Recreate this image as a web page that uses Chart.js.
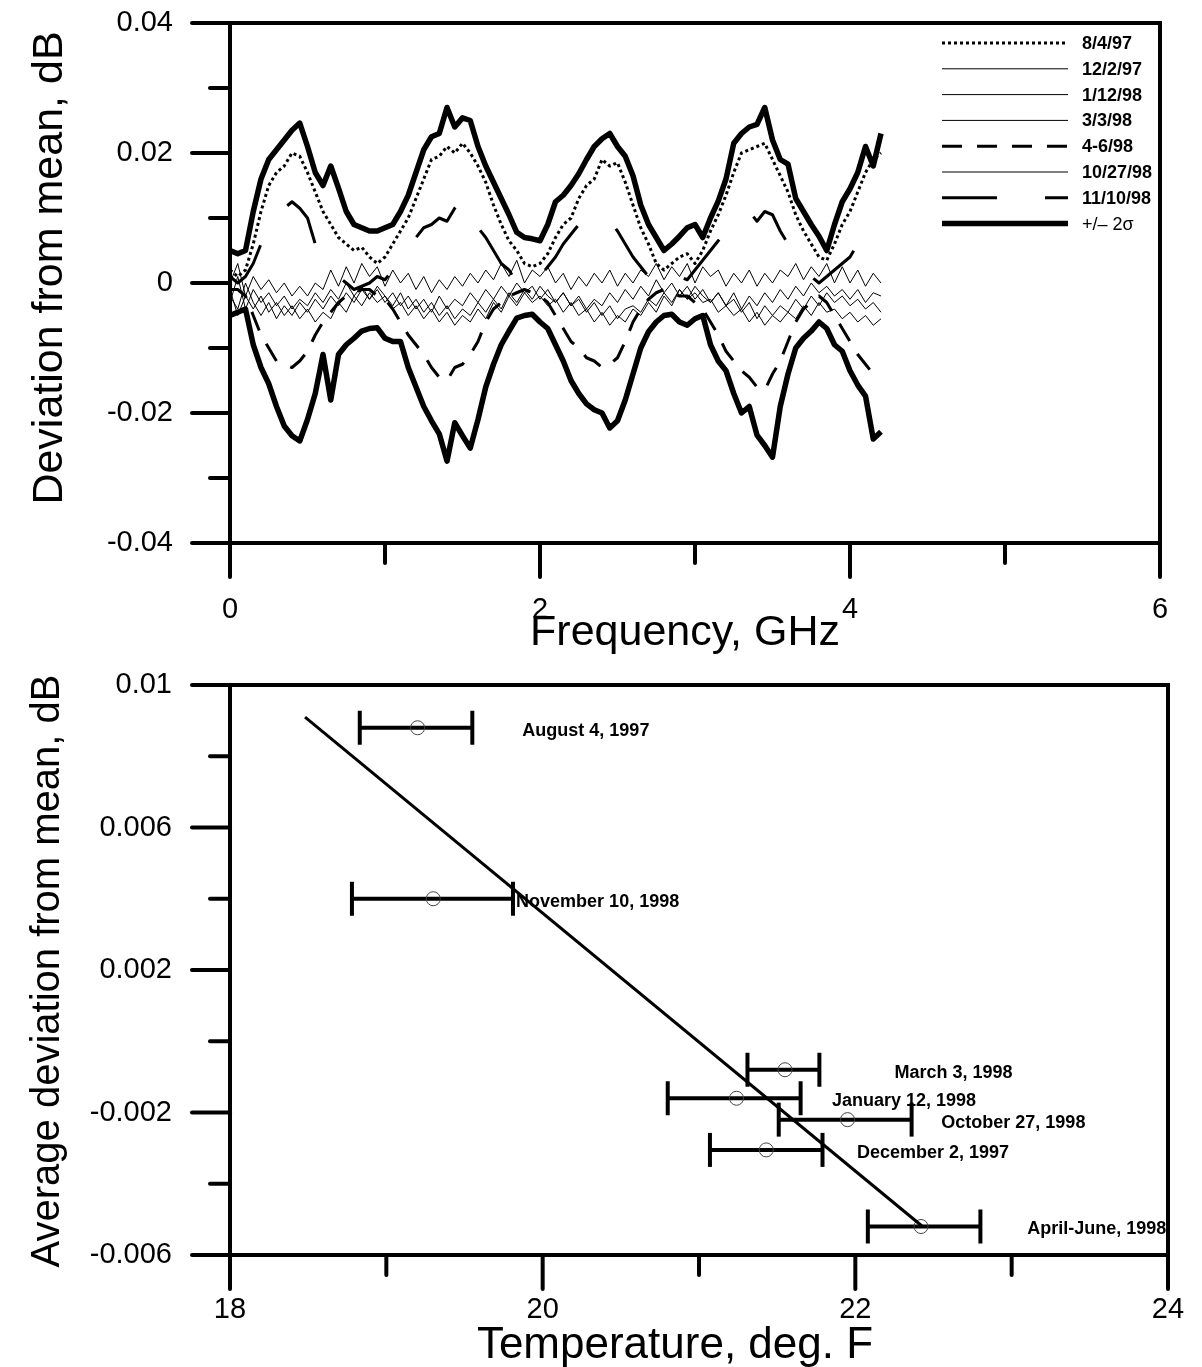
<!DOCTYPE html>
<html>
<head>
<meta charset="utf-8">
<script src="https://cdn.jsdelivr.net/npm/chart.js@4.4.1/dist/chart.umd.min.js"></script>
<style>
  html, body { margin: 0; padding: 0; background: #fff; }
  #top-chart { position: absolute; left: 0; top: 0; }
  #bottom-chart { position: absolute; left: 0; top: 660px; }
</style>
</head>
<body>
<canvas id="top-chart" width="1202" height="660"></canvas>
<canvas id="bottom-chart" width="1202" height="707"></canvas>
<script>
// ---- top panel: deviation from mean vs frequency (GHz), sampled every 0.05 GHz ----
const freq = [
  0.00, 0.05, 0.10, 0.15, 0.20, 0.25, 0.30, 0.35, 0.40, 0.45,
  0.50, 0.55, 0.60, 0.65, 0.70, 0.75, 0.80, 0.85, 0.90, 0.95,
  1.00, 1.05, 1.10, 1.15, 1.20, 1.25, 1.30, 1.35, 1.40, 1.45,
  1.50, 1.55, 1.60, 1.65, 1.70, 1.75, 1.80, 1.85, 1.90, 1.95,
  2.00, 2.05, 2.10, 2.15, 2.20, 2.25, 2.30, 2.35, 2.40, 2.45,
  2.50, 2.55, 2.60, 2.65, 2.70, 2.75, 2.80, 2.85, 2.90, 2.95,
  3.00, 3.05, 3.10, 3.15, 3.20, 3.25, 3.30, 3.35, 3.40, 3.45,
  3.50, 3.55, 3.60, 3.65, 3.70, 3.75, 3.80, 3.85, 3.90, 3.95,
  4.00, 4.05, 4.10, 4.15, 4.20
];

const plus2Sigma = [
  0.005, 0.0045, 0.005, 0.011, 0.016, 0.019, 0.0205, 0.022, 0.0235, 0.0246,
  0.021, 0.017, 0.015, 0.018, 0.0146, 0.011, 0.009, 0.0085, 0.008, 0.008,
  0.0085, 0.009, 0.011, 0.0135, 0.017, 0.0205, 0.0225, 0.023, 0.027, 0.024,
  0.0254, 0.025, 0.021, 0.018, 0.0155, 0.013, 0.0105, 0.0078, 0.007, 0.0068,
  0.0065, 0.009, 0.0125, 0.0135, 0.015, 0.0168, 0.019, 0.021, 0.0222, 0.023,
  0.021, 0.0195, 0.0165, 0.012, 0.009, 0.007, 0.005, 0.006, 0.0072, 0.0085,
  0.009, 0.007, 0.010, 0.0126, 0.016, 0.0215, 0.023, 0.024, 0.0244, 0.027,
  0.022, 0.019, 0.0183, 0.013, 0.011, 0.009, 0.0072, 0.005, 0.009, 0.0125,
  0.0145, 0.017, 0.021, 0.018, 0.023
];

const minus2Sigma = [
  -0.005, -0.0045, -0.004, -0.0095, -0.013, -0.0155, -0.019, -0.022, -0.0235, -0.0243,
  -0.021, -0.017, -0.011, -0.018, -0.011, -0.0095, -0.0085, -0.0074, -0.007, -0.0069,
  -0.0085, -0.009, -0.009, -0.013, -0.016, -0.019, -0.0212, -0.0232, -0.0274, -0.0215,
  -0.0235, -0.0254, -0.021, -0.016, -0.0125, -0.0095, -0.0074, -0.0054, -0.005, -0.0048,
  -0.006, -0.007, -0.0095, -0.012, -0.015, -0.017, -0.0186, -0.0195, -0.020, -0.0223,
  -0.0212, -0.018, -0.014, -0.010, -0.0075, -0.006, -0.005, -0.0048, -0.006, -0.0065,
  -0.0055, -0.005, -0.0095, -0.012, -0.0135, -0.017, -0.020, -0.019, -0.0234, -0.025,
  -0.0268, -0.019, -0.014, -0.010, -0.0085, -0.0074, -0.006, -0.007, -0.0095, -0.0105,
  -0.0135, -0.0157, -0.0174, -0.024, -0.0229
];

const aug497 = [
  0.002, 0.001, 0.002, 0.006, 0.011, 0.015, 0.017, 0.018, 0.020, 0.0195,
  0.017, 0.014, 0.011, 0.009, 0.007, 0.006, 0.005, 0.0055, 0.004, 0.003,
  0.004, 0.006, 0.008, 0.010, 0.013, 0.016, 0.019, 0.0195, 0.021, 0.020,
  0.0215, 0.020, 0.018, 0.0155, 0.012, 0.009, 0.0065, 0.005, 0.003, 0.0025,
  0.003, 0.0045, 0.007, 0.009, 0.010, 0.013, 0.015, 0.016, 0.019, 0.018,
  0.0185, 0.0155, 0.012, 0.0085, 0.006, 0.003, 0.002, 0.003, 0.004, 0.0045,
  0.003, 0.005, 0.008, 0.0105, 0.0135, 0.017, 0.020, 0.0205, 0.021, 0.0215,
  0.019, 0.0165, 0.014, 0.0105, 0.008, 0.006, 0.004, 0.0035, 0.006, 0.009,
  0.011, 0.014, 0.017, 0.019, 0.020
];

const dec297 = [
  0.000, 0.003, -0.002, 0.001, -0.001, 0.0005, -0.0015, 0.000, -0.002, -0.0005,
  -0.002, 0.000, -0.001, 0.002, -0.0005, 0.0025, 0.000, 0.003, 0.001, 0.0025,
  -0.0005, 0.002, 0.000, 0.0015, -0.001, 0.001, -0.0015, 0.0005, -0.001, 0.001,
  -0.0005, 0.0015, 0.000, 0.002, 0.0005, 0.003, 0.001, 0.0035, 0.000, 0.002,
  0.001, 0.0025, 0.000, 0.0015, -0.001, 0.001, -0.0005, 0.0015, 0.000, 0.002,
  -0.0005, 0.0015, 0.000, 0.002, 0.001, 0.003, 0.0005, 0.0025, 0.001, 0.003,
  0.000, 0.0025, 0.001, 0.002, -0.0005, 0.0015, 0.000, 0.002, -0.0005, 0.0015,
  0.000, 0.002, 0.001, 0.003, 0.0005, 0.0025, 0.001, 0.003, 0.000, 0.0025,
  0.000, 0.002, -0.0005, 0.0015, 0.000
];

const jan1298 = [
  -0.003, 0.001, -0.004, -0.001, -0.003, -0.0015, -0.0035, -0.002, -0.004, -0.0025,
  -0.0035, -0.0015, -0.003, -0.001, -0.0025, 0.000, -0.002, -0.0005, -0.0025, -0.001,
  -0.003, -0.0015, -0.0035, -0.002, -0.004, -0.0025, -0.0045, -0.002, -0.004, -0.0025,
  -0.0035, -0.0015, -0.003, -0.001, -0.0025, -0.0005, -0.002, 0.000, -0.0015, -0.0005,
  -0.0025, -0.001, -0.003, -0.0015, -0.0035, -0.002, -0.004, -0.0025, -0.0035, -0.0015,
  -0.003, -0.001, -0.0025, -0.0005, -0.002, 0.0005, -0.0015, 0.000, -0.002, -0.0005,
  -0.0025, -0.001, -0.003, -0.0015, -0.0035, -0.0015, -0.004, -0.002, -0.0035, -0.0015,
  -0.003, -0.001, -0.0025, -0.0005, -0.002, 0.000, -0.0015, -0.0005, -0.002, -0.001,
  -0.0025, -0.001, -0.003, -0.0015, -0.002
];

const mar398 = [
  -0.002, -0.004, 0.000, -0.003, -0.005, -0.003, -0.0055, -0.0035, -0.005, -0.003,
  -0.0045, -0.0025, -0.004, -0.002, -0.0035, -0.0015, -0.003, -0.001, -0.0025, -0.0005,
  -0.002, -0.0035, -0.0015, -0.004, -0.0025, -0.0045, -0.003, -0.005, -0.0035, -0.0055,
  -0.004, -0.005, -0.003, -0.0045, -0.0025, -0.004, -0.0015, -0.003, -0.001, -0.0025,
  -0.0005, -0.002, -0.003, -0.0015, -0.0035, -0.0025, -0.0045, -0.003, -0.005, -0.0035,
  -0.0055, -0.004, -0.0035, -0.0045, -0.0025, -0.0035, -0.0015, -0.003, -0.001, -0.0025,
  -0.0005, -0.002, -0.003, -0.0015, -0.0035, -0.0025, -0.0045, -0.003, -0.0055, -0.0035,
  -0.005, -0.0035, -0.0045, -0.0025, -0.004, -0.002, -0.0035, -0.0015, -0.003, -0.002,
  -0.0035, -0.0025, -0.004, -0.003, -0.0045
];

const apr698 = [
  -0.001, -0.001, -0.002, -0.005, -0.008, -0.010, -0.012, -0.0125, -0.013, -0.012,
  -0.0105, -0.008, -0.006, -0.0045, -0.003, -0.002, -0.0015, -0.001, -0.001, -0.002,
  -0.0025, -0.004, -0.006, -0.008, -0.0095, -0.011, -0.013, -0.0145, -0.015, -0.013,
  -0.0125, -0.011, -0.009, -0.006, -0.004, -0.003, -0.002, -0.0015, -0.001, -0.0015,
  -0.002, -0.003, -0.005, -0.007, -0.009, -0.010, -0.0115, -0.012, -0.013, -0.0125,
  -0.0115, -0.009, -0.006, -0.004, -0.0025, -0.0015, -0.001, -0.0015, -0.002, -0.002,
  -0.003, -0.004, -0.006, -0.008, -0.0105, -0.012, -0.0135, -0.0145, -0.016, -0.0165,
  -0.014, -0.012, -0.009, -0.006, -0.004, -0.003, -0.002, -0.003, -0.005, -0.007,
  -0.009, -0.011, -0.0125, -0.014, -0.0145
];

const oct2798 = [
  -0.001, -0.005, -0.002, -0.004, -0.002, -0.0045, -0.003, -0.005, -0.0035, -0.0055,
  -0.004, -0.006, -0.0045, -0.0055, -0.003, -0.0045, -0.002, -0.0035, -0.0015, -0.003,
  -0.002, -0.004, -0.003, -0.005, -0.0035, -0.0055, -0.004, -0.006, -0.0045, -0.0065,
  -0.005, -0.006, -0.004, -0.0055, -0.003, -0.0045, -0.002, -0.0035, -0.0015, -0.003,
  -0.002, -0.0035, -0.0025, -0.0045, -0.003, -0.005, -0.004, -0.006, -0.0045, -0.0065,
  -0.005, -0.006, -0.004, -0.005, -0.003, -0.0045, -0.002, -0.0035, -0.001, -0.0025,
  -0.0015, -0.003, -0.0025, -0.0045, -0.0035, -0.005, -0.004, -0.006, -0.0045, -0.0065,
  -0.005, -0.006, -0.0045, -0.0055, -0.0035, -0.005, -0.003, -0.0045, -0.004, -0.0055,
  -0.0045, -0.006, -0.005, -0.0065, -0.0055
];

const nov1098 = [
  0.001, 0.000, 0.001, 0.003, 0.006, 0.008, 0.010, 0.0115, 0.0125, 0.0115,
  0.010, 0.006, 0.003, 0.002, 0.001, 0.000, -0.001, -0.0005, 0.000, 0.001,
  0.0005, 0.002, 0.003, 0.005, 0.007, 0.0085, 0.009, 0.010, 0.0095, 0.0115,
  0.013, 0.0105, 0.0085, 0.007, 0.005, 0.003, 0.002, 0.000, -0.001, 0.000,
  0.001, 0.0025, 0.004, 0.006, 0.0075, 0.009, 0.009, 0.0095, 0.0105, 0.0095,
  0.008, 0.006, 0.004, 0.0025, 0.001, 0.000, -0.001, 0.000, 0.001, 0.0005,
  0.002, 0.0035, 0.005, 0.0065, 0.008, 0.009, 0.010, 0.011, 0.0095, 0.011,
  0.0105, 0.008, 0.006, 0.004, 0.002, 0.001, 0.000, 0.001, 0.002, 0.003,
  0.004, 0.006, 0.0075, 0.009, 0.0095
];

// ---- bottom panel: average deviation vs temperature ----
const dateLabels = ['August 4, 1997', 'November 10, 1998', 'March 3, 1998', 'January 12, 1998',
  'October 27, 1998', 'December 2, 1997', 'April-June, 1998'];
const tempMean = [19.20, 19.30, 21.55, 21.24, 21.95, 21.43, 22.42];
const tempLow = [18.83, 18.78, 21.31, 20.80, 21.51, 21.07, 22.08];
const tempHigh = [19.55, 19.81, 21.77, 21.65, 22.36, 21.79, 22.80];
const avgDev = [0.0088, 0.0040, -0.0008, -0.0016, -0.0022, -0.00305, -0.0052];
const fitTemp = [18.48, 22.43];
const fitDev = [0.0091, -0.0052];

// where each date note starts, in temperature units (layout only)
const noteStart = [19.87, 19.83, 22.25, 21.85, 22.55, 22.01, 23.10];

const FONT = '"Liberation Sans", Arial, Helvetica, sans-serif';
Chart.defaults.font.family = FONT;
Chart.defaults.color = '#000';

const pts = (xs, ys) => xs.map((x, i) => ({x, y: ys[i]}));

function series(label, values, width, dash, legend = true) {
  return {
    label, data: pts(freq, values), legend,
    borderColor: '#000', borderWidth: width, borderDash: dash,
    borderJoinStyle: 'round', pointRadius: 0, tension: 0, fill: false
  };
}

// fixed-size axis; drop the label overhang padding so the plot box sits where we want it
function axis(min, max, step, fmt, pad, size) {
  return {
    type: 'linear', min, max,
    grid: {display: false, drawTicks: false},
    border: {display: false},
    ticks: {stepSize: step, autoSkip: false, maxRotation: 0, padding: pad,
      font: {size: 29}, color: '#000', callback: fmt},
    afterFit(s) {
      if (s.isHorizontal()) s.height = size; else s.width = size;
      s.paddingTop = s.paddingBottom = s.paddingLeft = s.paddingRight = 0;
    }
  };
}

// frame, tick marks and axis titles
const framePlugin = {
  id: 'frame',
  afterDraw(chart, args, o) {
    const {ctx, chartArea: a, scales: {x, y}} = chart;
    ctx.save();
    ctx.strokeStyle = '#000';
    ctx.lineWidth = 4;
    ctx.lineCap = 'round';
    x.ticks.forEach(t => {
      const p = x.getPixelForValue(t.value);
      ctx.beginPath(); ctx.moveTo(p, a.bottom); ctx.lineTo(p, a.bottom + (t.label ? 34 : 20)); ctx.stroke();
    });
    y.ticks.forEach(t => {
      const p = y.getPixelForValue(t.value);
      ctx.beginPath(); ctx.moveTo(a.left, p); ctx.lineTo(a.left - (t.label ? 38 : 20), p); ctx.stroke();
    });
    ctx.lineCap = 'butt';
    ctx.strokeRect(a.left, a.top, a.right - a.left, a.bottom - a.top);

    ctx.fillStyle = '#000';
    ctx.textAlign = 'center';
    ctx.textBaseline = 'middle';
    ctx.font = o.xFont + 'px ' + FONT;
    ctx.fillText(o.xTitle, o.xAt[0], o.xAt[1]);
    ctx.translate(o.yAt[0], o.yAt[1]);
    ctx.rotate(-Math.PI / 2);
    ctx.font = o.yFont + 'px ' + FONT;
    ctx.fillText(o.yTitle, 0, 0);
    ctx.restore();
  }
};

// legend in the top right of the upper panel, drawn from the datasets' own styles
const legendPlugin = {
  id: 'lineLegend',
  afterDatasetsDraw(chart) {
    const {ctx} = chart;
    const items = chart.data.datasets.filter(d => d.legend);
    ctx.save();
    ctx.fillStyle = '#000';
    ctx.strokeStyle = '#000';
    ctx.textBaseline = 'middle';
    items.forEach((d, i) => {
      const yy = 43 + i * 25.8;
      ctx.lineWidth = d.borderWidth;
      ctx.setLineDash(d.borderDash || []);
      ctx.beginPath(); ctx.moveTo(942, yy); ctx.lineTo(1068, yy); ctx.stroke();
      ctx.setLineDash([]);
      ctx.font = (d.legendBold === false ? '' : 'bold ') + '18px ' + FONT;
      ctx.fillText(d.label, 1082, yy + 1);
    });
    ctx.restore();
  }
};

const topLabel = v => {
  const k = Math.round(v * 100);
  if (k % 2) return '';
  return k === 0 ? '0' : (k / 100).toFixed(2);
};
const evenLabel = v => (Math.round(v) % 2 ? '' : String(Math.round(v)));

const envPlus = series('+/\u2013 2\u03c3', plus2Sigma, 5.5, []);
envPlus.legendBold = false;

const topDatasets = [
  series('8/4/97', aug497, 3, [3, 3]),
  series('12/2/97', dec297, 1, []),
  series('1/12/98', jan1298, 1, []),
  series('3/3/98', mar398, 1, []),
  series('4-6/98', apr698, 3, [20, 15]),
  series('10/27/98', oct2798, 1, []),
  series('11/10/98', nov1098, 3, [55, 48]),
  envPlus,
  series('-2\u03c3', minus2Sigma, 5.5, [], false)
];
// draw the envelopes on top
topDatasets.forEach((d, i) => { d.order = topDatasets.length - i; });

new Chart(document.getElementById('top-chart'), {
  type: 'line',
  data: {datasets: topDatasets},
  options: {
    responsive: false,
    animation: false,
    layout: {padding: {top: 23, right: 42, left: 0, bottom: 0}},
    plugins: {
      legend: {display: false},
      tooltip: {enabled: false},
      frame: {xTitle: 'Frequency, GHz', xAt: [685, 633], xFont: 43,
        yTitle: 'Deviation from mean, dB', yAt: [50, 268], yFont: 43}
    },
    scales: {
      x: axis(0, 6, 1, evenLabel, 50, 117),
      y: axis(-0.04, 0.04, 0.01, topLabel, 57, 230)
    }
  },
  plugins: [framePlugin, legendPlugin]
});

// ---- bottom chart ----
const bottomLabel = v => {
  const k = Math.round(v * 1000);
  if ((k + 6) % 4 !== 0) return '';
  return String(parseFloat((k / 1000).toFixed(3)));
};

const errorBars = avgDev.map((y, i) => ({
  type: 'line',
  data: [{x: tempLow[i], y}, {x: tempHigh[i], y}],
  borderColor: '#000', borderWidth: 4,
  pointStyle: 'line', pointRotation: 90, pointRadius: 17,
  pointBorderWidth: 4, pointBorderColor: '#000'
}));

const notePlugin = {
  id: 'notes',
  afterDatasetsDraw(chart) {
    const {ctx, scales: {x, y}} = chart;
    ctx.save();
    ctx.fillStyle = '#000';
    ctx.font = 'bold 18px ' + FONT;
    ctx.textBaseline = 'middle';
    dateLabels.forEach((t, i) => {
      ctx.fillText(t, x.getPixelForValue(noteStart[i]), y.getPixelForValue(avgDev[i]) + 3);
    });
    ctx.restore();
  }
};

new Chart(document.getElementById('bottom-chart'), {
  type: 'scatter',
  data: {
    datasets: [
      {
        type: 'line', data: pts(fitTemp, fitDev),
        borderColor: '#000', borderWidth: 3, pointRadius: 0
      },
      {
        type: 'scatter', data: pts(tempMean, avgDev),
        pointStyle: 'circle', pointRadius: 7, borderWidth: 1,
        borderColor: '#444', backgroundColor: 'rgba(0,0,0,0)'
      },
      ...errorBars
    ]
  },
  options: {
    responsive: false,
    animation: false,
    layout: {padding: {top: 25, right: 34, left: 0, bottom: 0}},
    plugins: {
      legend: {display: false},
      tooltip: {enabled: false},
      frame: {xTitle: 'Temperature, deg. F', xAt: [675, 686], xFont: 44,
        yTitle: 'Average deviation from mean, dB', yAt: [48, 311], yFont: 40}
    },
    scales: {
      x: axis(18, 24, 1, evenLabel, 38, 112),
      y: axis(-0.006, 0.01, 0.002, bottomLabel, 58, 230)
    }
  },
  plugins: [notePlugin, framePlugin]
});
</script>
</body>
</html>
